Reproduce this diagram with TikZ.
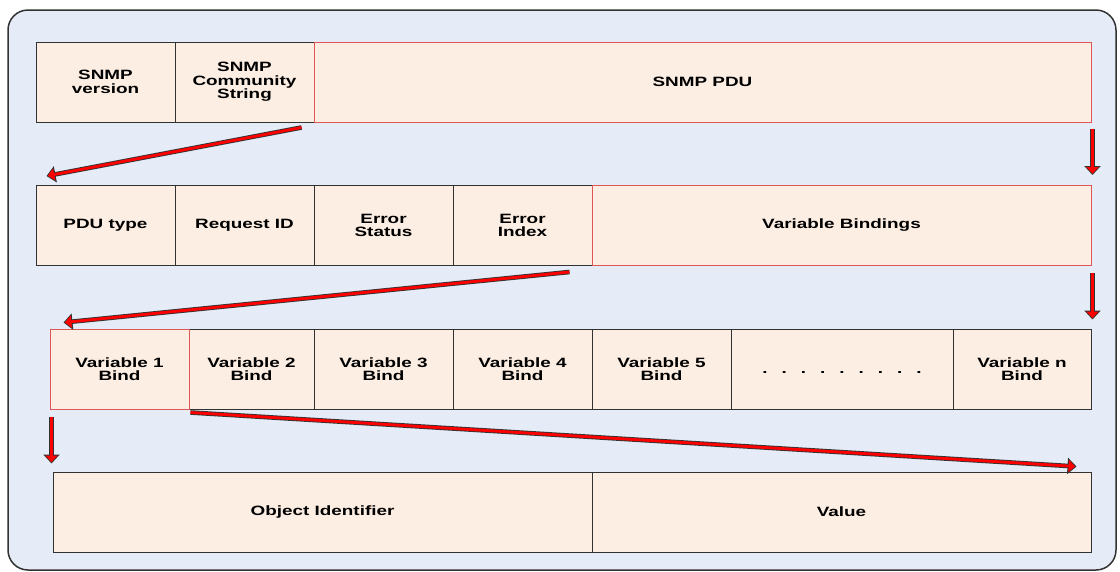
\documentclass[tikz,border=0pt]{standalone}
\usepackage{fontspec}
\setmainfont[FakeStretch=1.4]{Liberation Sans}
\usetikzlibrary{arrows.meta}

\definecolor{bgblue}{RGB}{229,236,247}
\definecolor{fieldfill}{RGB}{253,238,227}
\definecolor{fieldred}{RGB}{222,85,85}
\definecolor{edge}{RGB}{50,50,50}
\newcommand{\gapdot}{\hspace{14pt}.}

\begin{document}
\begin{tikzpicture}[x=1pt,y=-1pt,
    field/.style={draw=edge, line width=1pt, fill=fieldfill, minimum height=80pt,
        inner sep=0pt, align=center, font=\fontsize{13.5}{13.5}\selectfont\bfseries},
    redfield/.style={field, draw=fieldred},
    flow/.style={draw=black!80, line width=4.6pt, -{Triangle[width=16pt,length=9pt]},
        postaction={draw=red, line width=2.8pt, -{Triangle[width=12pt,length=6.5pt]}, shorten >=1.4pt}}]
        \useasboundingbox (0,0) rectangle (1120,571);
        \draw[edge, line width=1.5pt, fill=bgblue, rounded corners=20pt] (8,10) rectangle (1116,570);

        % SNMP message
        \node[field, minimum width=139pt] (ver) at (105.5,82) {SNMP\\version};
        \node[field, minimum width=139pt] (comm) at (244.5,82) {SNMP\\Community\\String};
        \node[redfield, minimum width=777pt] (pdu) at (702.5,82) {SNMP PDU};

        % PDU
        \node[field, minimum width=139pt] (ptype) at (105.5,225.5) {PDU type};
        \node[field, minimum width=139pt] (reqid) at (244.5,225.5) {Request ID};
        \node[field, minimum width=139pt] (estat) at (383.5,225.5) {Error\\Status};
        \node[field, minimum width=139pt] (eidx) at (522.5,225.5) {Error\\Index};
        \node[redfield, minimum width=499pt] (vbind) at (841.5,225.5) {Variable Bindings};

        % Bindings
        \node[field, minimum width=125pt] (v2) at (251.5,369) {Variable 2\\Bind};
        \node[field, minimum width=139pt] (v3) at (383.5,369) {Variable 3\\Bind};
        \node[field, minimum width=139pt] (v4) at (522.5,369) {Variable 4\\Bind};
        \node[field, minimum width=139pt] (v5) at (661.5,369) {Variable 5\\Bind};
        \node[field, minimum width=222pt] (dots) at (842,369) {\raisebox{-4pt}[0pt][0pt]{.\gapdot\gapdot\gapdot\gapdot\gapdot\gapdot\gapdot\gapdot}};
        \node[field, minimum width=138pt] (vn) at (1022,369) {Variable n\\Bind};
        \node[redfield, minimum width=139pt] (v1) at (119.5,369) {Variable 1\\Bind};

        % one binding
        \node[field, minimum width=539pt] (oid) at (322.5,512) {Object Identifier};
        \node[field, minimum width=499pt] (val) at (841.5,512) {Value};

        % arrows
        \draw[flow] ([shift={(-12,5)}]pdu.south west) -- ([shift={(11,-9)}]ptype.north west);
        \draw[flow] ([shift={(1,6)}]pdu.south east) -- ([shift={(1,-10)}]vbind.north east);
        \draw[flow] ([shift={(-23,6)}]eidx.south east) -- ([shift={(14,-6)}]v1.north west);
        \draw[flow] ([shift={(1,7)}]vbind.south east) -- ([shift={(1,-9)}]vn.north east);
        \draw[flow] ([shift={(2,7)}]v1.south west) -- ([shift={(-1,-8)}]oid.north west);
        \draw[flow] ([shift={(2,3)}]v2.south west) -- ([shift={(-15,-5)}]val.north east);
\end{tikzpicture}
\end{document}
